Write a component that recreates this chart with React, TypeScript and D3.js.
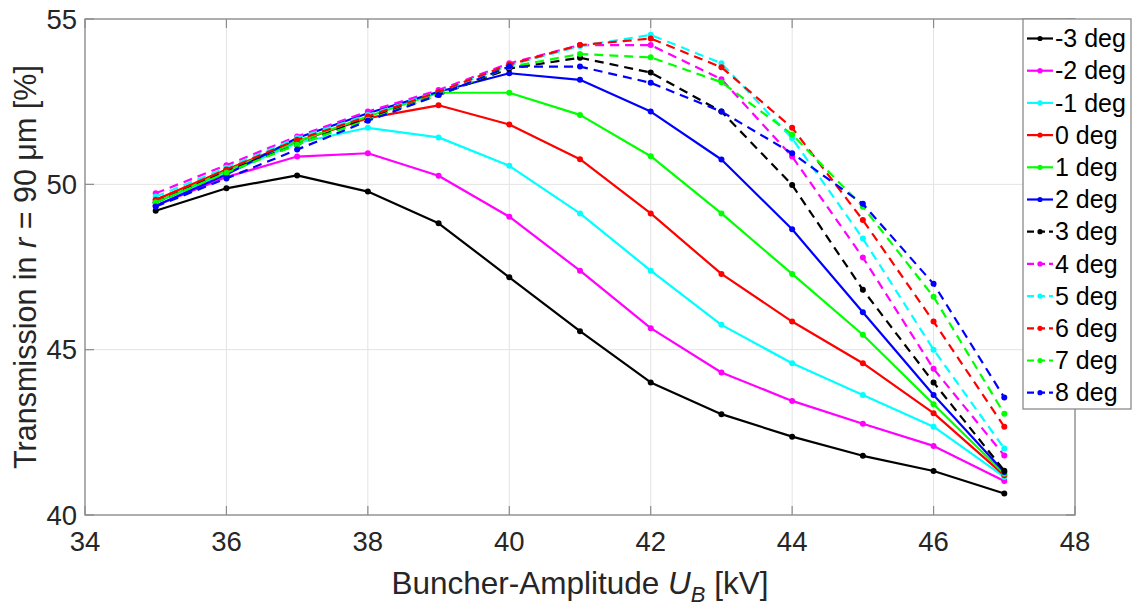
import React from "react";
import * as d3 from "d3";

const xValues = [35, 36, 37, 38, 39, 40, 41, 42, 43, 44, 45, 46, 47];
const seriesNames = ["-3 deg", "-2 deg", "-1 deg", "0 deg", "1 deg", "2 deg", "3 deg", "4 deg", "5 deg", "6 deg", "7 deg", "8 deg"];
const sM3 = [49.2, 49.88, 50.27, 49.78, 48.82, 47.19, 45.56, 44.01, 43.05, 42.37, 41.79, 41.33, 40.65];
const sM2 = [49.35, 50.22, 50.84, 50.94, 50.26, 49.02, 47.39, 45.65, 44.31, 43.45, 42.76, 42.09, 41.03];
const sM1 = [49.45, 50.33, 51.25, 51.71, 51.42, 50.56, 49.12, 47.39, 45.75, 44.59, 43.63, 42.67, 41.15];
const s0 = [49.53, 50.45, 51.3, 52.0, 52.39, 51.81, 50.76, 49.12, 47.29, 45.85, 44.59, 43.08, 41.2];
const s1 = [49.45, 50.4, 51.3, 52.05, 52.77, 52.77, 52.1, 50.85, 49.12, 47.29, 45.45, 43.35, 41.25];
const s2 = [49.35, 50.3, 51.4, 52.15, 52.8, 53.36, 53.16, 52.2, 50.75, 48.64, 46.13, 43.63, 41.3];
const s3 = [49.45, 50.4, 51.2, 52.0, 52.7, 53.5, 53.83, 53.38, 52.2, 49.98, 46.81, 44.01, 41.34];
const s4 = [49.73, 50.58, 51.45, 52.2, 52.85, 53.66, 54.21, 54.21, 53.18, 50.84, 47.79, 44.42, 41.8];
const s5 = [49.63, 50.5, 51.4, 52.1, 52.8, 53.6, 54.18, 54.52, 53.66, 51.39, 48.36, 45.0, 42.01];
const s6 = [49.53, 50.45, 51.35, 52.05, 52.8, 53.62, 54.21, 54.41, 53.54, 51.71, 48.92, 45.85, 42.67];
const s7 = [49.45, 50.35, 51.2, 51.95, 52.7, 53.55, 53.94, 53.84, 53.09, 51.51, 49.32, 46.6, 43.06];
const s8 = [49.33, 50.18, 51.05, 51.92, 52.7, 53.56, 53.56, 53.07, 52.2, 50.94, 49.41, 46.99, 43.55];
const seriesValues = [sM3, sM2, sM1, s0, s1, s2, s3, s4, s5, s6, s7, s8];
const seriesColors = ["#000000", "#ff00ff", "#00ffff", "#ff0000", "#00ff00", "#0000ff", "#000000", "#ff00ff", "#00ffff", "#ff0000", "#00ff00", "#0000ff"];
const seriesDashed = [false, false, false, false, false, false, true, true, true, true, true, true];
const xTicks = [34, 36, 38, 40, 42, 44, 46, 48];
const yTicks = [40, 45, 50, 55];

const W = 1134;
const H = 606;
const left = 85, right = 1075, top = 19, bottom = 515;
const FONT = "'Liberation Sans', Arial, Helvetica, sans-serif";

export default function App() {
  const x = d3.scaleLinear().domain([34, 48]).range([left, right]);
  const y = d3.scaleLinear().domain([40, 55]).range([bottom, top]);
  const line = d3.line<number>().x((_, i) => x(xValues[i])).y((d) => y(d));
  const axisColor = "#8a8a8a";
  const textColor = "#262626";
  const legX = 1023, legY = 19, legW = 108, legH = 390;
  const rowY0 = 38.5, rowStep = 32.2;

  return (
    <svg width={W} height={H} style={{ position: "absolute", left: 0, top: 0, background: "#fff" }} fontFamily={FONT}>
      <rect x={0} y={0} width={W} height={H} fill="#fff" />
      {xTicks.map((t) => (
        <line key={"gx" + t} x1={x(t)} x2={x(t)} y1={top} y2={bottom} stroke="#e3e3e3" strokeWidth={1} />
      ))}
      {yTicks.map((t) => (
        <line key={"gy" + t} x1={left} x2={right} y1={y(t)} y2={y(t)} stroke="#e3e3e3" strokeWidth={1} />
      ))}
      {xTicks.map((t) => (
        <g key={"tx" + t}>
          <line x1={x(t)} x2={x(t)} y1={bottom} y2={bottom - 9} stroke={axisColor} strokeWidth={1.2} />
          <line x1={x(t)} x2={x(t)} y1={top} y2={top + 9} stroke={axisColor} strokeWidth={1.2} />
          <text x={x(t)} y={551} textAnchor="middle" fontSize={27.5} fill={textColor}>{t}</text>
        </g>
      ))}
      {yTicks.map((t) => (
        <g key={"ty" + t}>
          <line x1={left} x2={left + 9} y1={y(t)} y2={y(t)} stroke={axisColor} strokeWidth={1.2} />
          <line x1={right} x2={right - 9} y1={y(t)} y2={y(t)} stroke={axisColor} strokeWidth={1.2} />
          <text x={77} y={y(t)} dy="0.35em" textAnchor="end" fontSize={27.5} fill={textColor}>{t}</text>
        </g>
      ))}
      <rect x={left} y={top} width={right - left} height={bottom - top} fill="none" stroke={axisColor} strokeWidth={1.3} />
      {seriesValues.map((vals, si) => (
        <g key={"s" + si}>
          <path d={line(vals) || ""} fill="none" stroke={seriesColors[si]} strokeWidth={2.2}
            strokeDasharray={seriesDashed[si] ? "9,6" : undefined} strokeLinejoin="round" />
          {vals.map((v, i) => (
            <circle key={i} cx={x(xValues[i])} cy={y(v)} r={3} fill={seriesColors[si]} />
          ))}
        </g>
      ))}
      <text x={(left + right) / 2} y={594} textAnchor="middle" fontSize={31.5} fill={textColor}>
        Buncher-Amplitude <tspan fontStyle="italic">U</tspan>
        <tspan fontSize={22} dy={8} fontStyle="italic">B</tspan>
        <tspan dy={-8}> [kV]</tspan>
      </text>
      <text transform={`translate(36,${(top + bottom) / 2}) rotate(-90)`} textAnchor="middle" fontSize={30.5} fill={textColor}>
        Transmission in <tspan fontStyle="italic">r</tspan> = 90 μm [%]
      </text>
      <rect x={legX} y={legY} width={legW} height={legH} fill="#fff" stroke={axisColor} strokeWidth={1.3} />
      {seriesNames.map((name, si) => {
        const cy = rowY0 + si * rowStep;
        return (
          <g key={"l" + si}>
            <line x1={1027} x2={1053} y1={cy} y2={cy} stroke={seriesColors[si]} strokeWidth={2.2}
              strokeDasharray={seriesDashed[si] ? "7,4" : undefined} />
            <circle cx={1040} cy={cy} r={2.6} fill={seriesColors[si]} />
            <text x={1055} y={cy} dy="0.35em" fontSize={25} fill="#000">{name}</text>
          </g>
        );
      })}
    </svg>
  );
}
